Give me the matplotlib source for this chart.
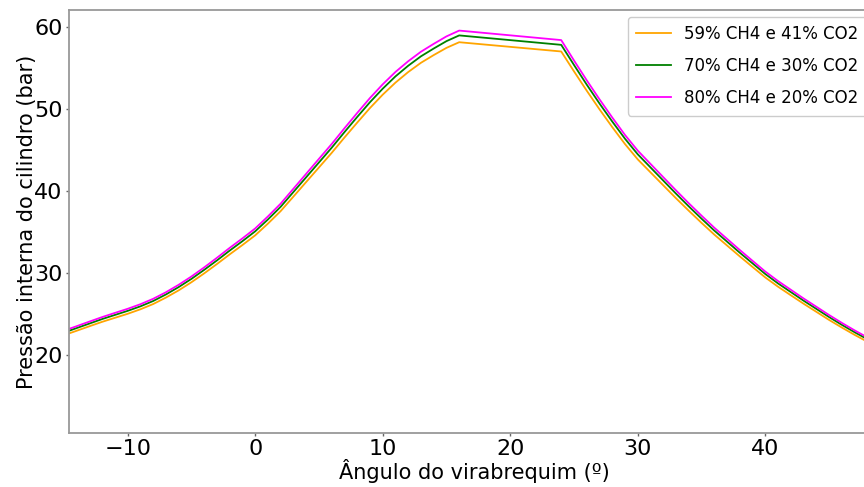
import matplotlib
matplotlib.use("Agg")
import matplotlib.pyplot as plt

# Crank angle (degrees) and cylinder pressure (bar) for each biogas blend
angle = [-15, -14, -13, -12, -11, -10, -9, -8, -7, -6, -5, -4, -3, -2, -1, 0,
         1, 2, 3, 4, 5, 6, 7, 8, 9, 10, 11, 12, 13, 14, 15, 16,
         24, 25, 26, 27, 28, 29, 30, 31, 32, 33, 34, 35, 36, 37, 38, 39, 40,
         41, 42, 43, 44, 45, 46, 47, 48]

p_59ch4 = [22.43, 22.97, 23.52, 24.06, 24.55, 25.04, 25.59, 26.23, 27.02, 27.90,
           28.89, 29.97, 31.11, 32.29, 33.43, 34.61, 36.04, 37.57, 39.34, 41.12,
           42.89, 44.67, 46.54, 48.36, 50.14, 51.77, 53.24, 54.53, 55.66, 56.60,
           57.48, 58.17,
           57.04, 54.62, 52.26, 49.99, 47.82, 45.75, 43.88, 42.30, 40.72, 39.14,
           37.62, 36.14, 34.71, 33.38, 32.05, 30.76, 29.48, 28.35, 27.31, 26.28,
           25.29, 24.30, 23.37, 22.48, 21.64]

p_70ch4 = [22.75, 23.30, 23.85, 24.40, 24.90, 25.40, 25.95, 26.60, 27.40, 28.30,
           29.30, 30.40, 31.55, 32.75, 33.90, 35.10, 36.55, 38.10, 39.90, 41.70,
           43.50, 45.30, 47.20, 49.05, 50.85, 52.50, 54.00, 55.30, 56.45, 57.40,
           58.30, 59.00,
           57.85, 55.40, 53.00, 50.70, 48.50, 46.40, 44.50, 42.90, 41.30, 39.70,
           38.15, 36.65, 35.20, 33.85, 32.50, 31.20, 29.90, 28.75, 27.70, 26.65,
           25.65, 24.65, 23.70, 22.80, 21.95]

p_80ch4 = [22.98, 23.53, 24.09, 24.64, 25.15, 25.65, 26.21, 26.87, 27.67, 28.58,
           29.59, 30.70, 31.87, 33.08, 34.24, 35.45, 36.92, 38.48, 40.30, 42.12,
           43.94, 45.75, 47.67, 49.54, 51.36, 53.03, 54.54, 55.85, 57.01, 57.97,
           58.88, 59.59,
           58.43, 55.95, 53.53, 51.21, 48.99, 46.86, 44.95, 43.33, 41.71, 40.10,
           38.53, 37.02, 35.55, 34.19, 32.83, 31.51, 30.20, 29.04, 27.98, 26.92,
           25.91, 24.90, 23.94, 23.03, 22.17]

labels = ["59% CH4 e 41% CO2", "70% CH4 e 30% CO2", "80% CH4 e 20% CO2"]
colors = ["orange", "green", "magenta"]

x_ticks = [-10, 0, 10, 20, 30, 40]
y_ticks = [20, 30, 40, 50, 60]

W, H = 864, 487
fig = plt.figure(figsize=(W / 100, H / 100), dpi=100)
# axes run past the right edge of the canvas
left_px, right_px, top_px, bottom_px = 69, 880, 10, 433
ax = fig.add_axes([left_px / W, 1 - bottom_px / H,
                   (right_px - left_px) / W, (bottom_px - top_px) / H])

for series, lab, col in zip([p_59ch4, p_70ch4, p_80ch4], labels, colors):
    ax.plot(angle, series, color=col, lw=1.3, label=lab)

ax.set_xlim(-14.6, 49.0)
ax.set_ylim(10.5, 62.1)
ax.set_xticks(x_ticks)
ax.set_yticks(y_ticks)

ax.tick_params(axis="both", labelsize=16, length=2.5, width=1.0,
               color="#666666")
ax.tick_params(axis="x", pad=1.5)
ax.tick_params(axis="y", pad=2.0)

ax.set_xlabel("Ângulo do virabrequim (º)", fontsize=15)
ax.set_ylabel("Pressão interna do cilindro (bar)", fontsize=15)
ax.xaxis.label.set_va("center")
ax.yaxis.label.set_va("center")
ax.xaxis.set_label_coords(0.5, -0.0898)
ax.yaxis.set_label_coords(-0.0518, 0.5)

for s in ax.spines.values():
    s.set_color("#999999")
    s.set_linewidth(1.3)

leg = ax.legend(loc="upper left", bbox_to_anchor=(627.7 / W, 1 - 17 / H),
                bbox_transform=fig.transFigure, fontsize=12,
                handlelength=2.1, handletextpad=0.8, labelspacing=0.84,
                borderpad=0.5, borderaxespad=0, framealpha=1)

fig.savefig("out.png", dpi=100)
